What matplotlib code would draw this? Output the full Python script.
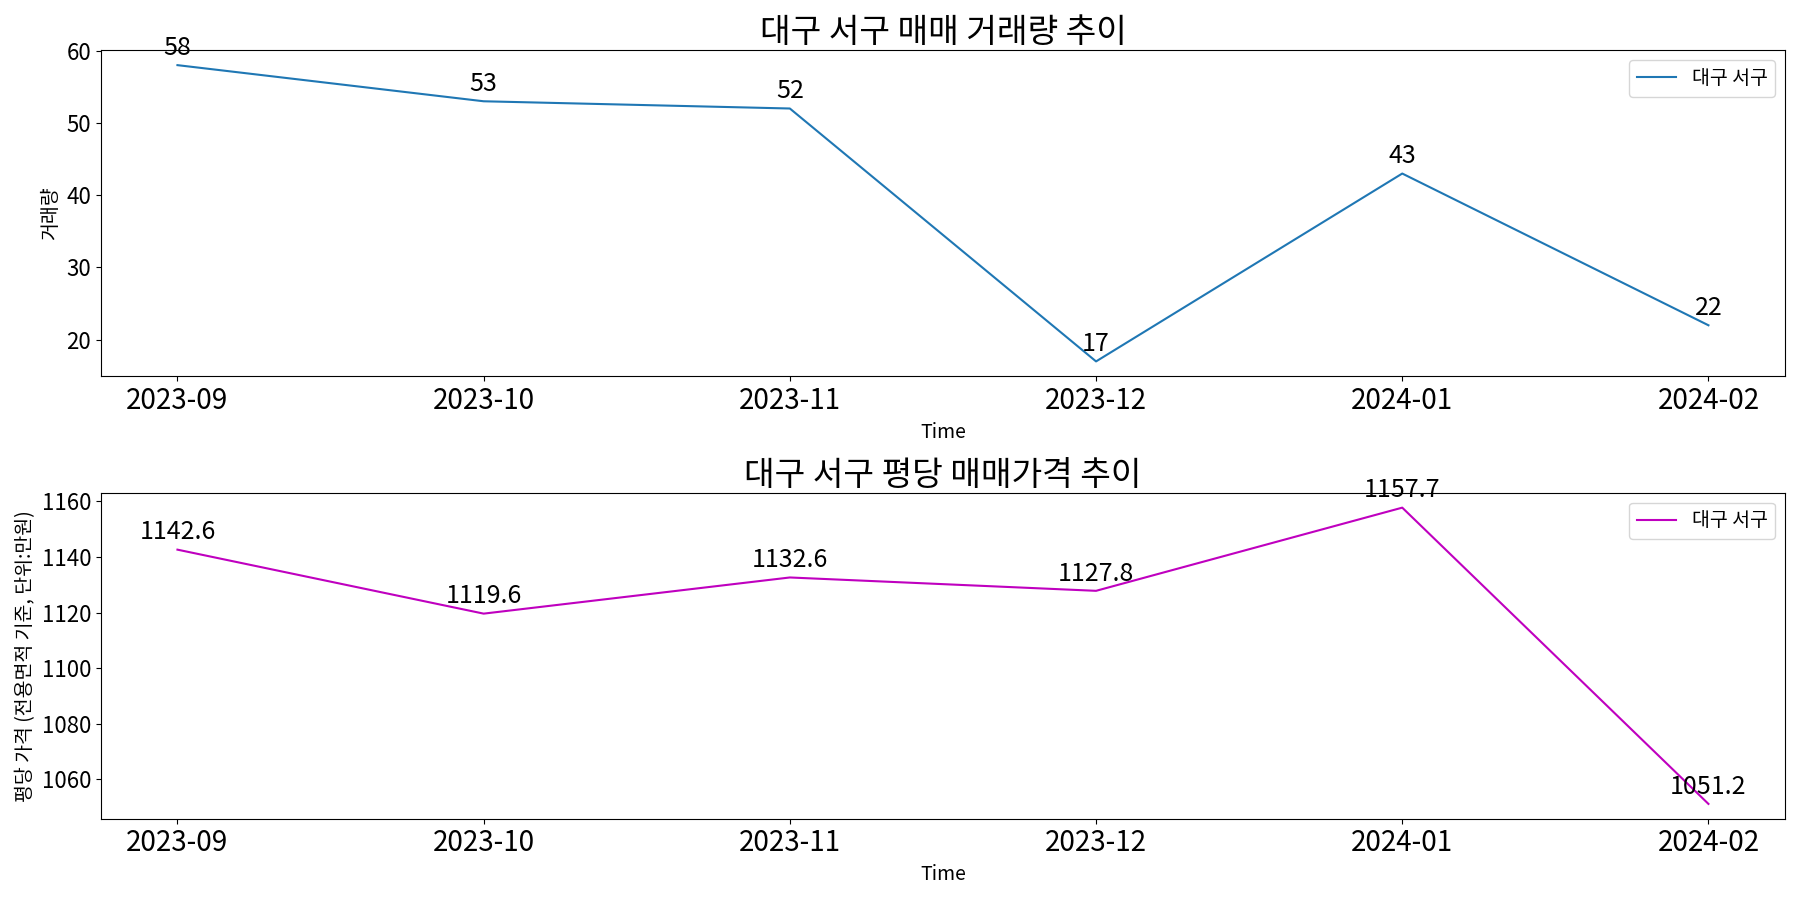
import matplotlib
matplotlib.use("Agg")
import matplotlib.pyplot as plt

plt.rcParams["font.family"] = "Noto Sans CJK KR"
plt.rcParams["axes.unicode_minus"] = False

months = ["2023-09", "2023-10", "2023-11", "2023-12", "2024-01", "2024-02"]
volume = [58, 53, 52, 17, 43, 22]
price = [1142.6, 1119.6, 1132.6, 1127.8, 1157.7, 1051.2]
region = "대구 서구"

fig, (ax1, ax2) = plt.subplots(2, 1, figsize=(18, 9), dpi=100)

# 거래량
ax1.plot(months, volume, color="#1f77b4", label=region)
for x, y in zip(months, volume):
    ax1.annotate(f"{y}", (x, y), xytext=(0, 3), textcoords="offset points",
                 ha="center", va="bottom", fontsize=18)
ax1.set_title(f"{region} 매매 거래량 추이", fontsize=24)
ax1.set_xlabel("Time", fontsize=14)
ax1.set_ylabel("거래량", fontsize=14)
ax1.tick_params(axis="x", labelsize=20)
ax1.tick_params(axis="y", labelsize=16)
ax1.legend(loc="upper right", fontsize=14)

# 평당 가격
ax2.plot(months, price, color="m", label=region)
for x, y in zip(months, price):
    ax2.annotate(f"{y}", (x, y), xytext=(0, 3), textcoords="offset points",
                 ha="center", va="bottom", fontsize=18)
ax2.set_title(f"{region} 평당 매매가격 추이", fontsize=24)
ax2.set_xlabel("Time", fontsize=14)
ax2.set_ylabel("평당 가격 (전용면적 기준, 단위:만원)", fontsize=14)
ax2.tick_params(axis="x", labelsize=20)
ax2.tick_params(axis="y", labelsize=16)
ax2.legend(loc="upper right", fontsize=14)

plt.tight_layout()
plt.savefig("out.png")
